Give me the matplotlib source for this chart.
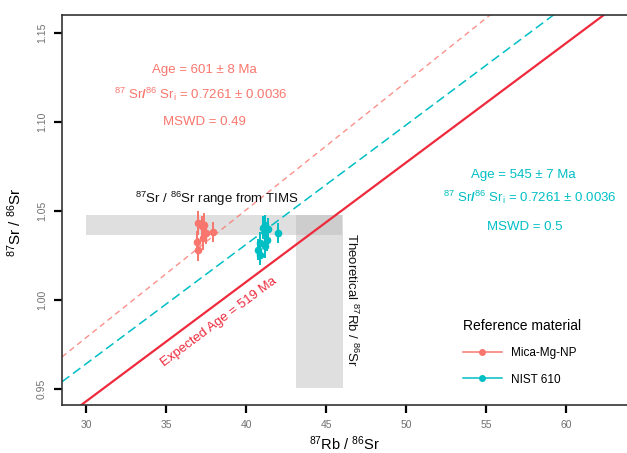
import numpy as np
import matplotlib
matplotlib.use("Agg")
import matplotlib.pyplot as plt
from matplotlib.lines import Line2D

plt.rcParams['font.family'] = ['Liberation Sans', 'DejaVu Sans']
plt.rcParams['mathtext.fontset'] = 'custom'
plt.rcParams['mathtext.rm'] = 'Liberation Sans'
plt.rcParams['mathtext.bf'] = 'Liberation Sans:bold'
plt.rcParams['mathtext.it'] = 'Liberation Sans:italic'

# Measured ratios (87Rb/86Sr, 87Sr/86Sr) with 2s errors
mica_rb = [37.02, 37.23, 37.38, 37.50, 37.96, 36.92, 37.02, 37.33]
mica_sr = [1.0432, 1.0413, 1.0422, 1.0377, 1.0381, 1.0328, 1.0282, 1.0348]
mica_rb_err = [0.10, 0.10, 0.10, 0.10, 0.10, 0.10, 0.10, 0.10]
mica_sr_err = [0.0065, 0.0060, 0.0065, 0.0060, 0.0055, 0.0060, 0.0065, 0.0065]

nist_rb = [41.06, 41.40, 42.00, 40.90, 41.30, 40.76, 41.19, 40.88, 41.20]
nist_sr = [1.0405, 1.0396, 1.0377, 1.0321, 1.0338, 1.0282, 1.0301, 1.0254, 1.0422]
nist_rb_err = [0.10, 0.10, 0.10, 0.10, 0.10, 0.10, 0.10, 0.10, 0.10]
nist_sr_err = [0.0065, 0.0065, 0.0055, 0.0060, 0.0065, 0.0060, 0.0065, 0.0060, 0.0055]

# Isochron lines: slope and intercept of each regression
mica_slope, mica_int = 0.00718, 0.7634
nist_slope, nist_int = 0.00671, 0.7628
expected_slope, expected_int = 0.00671, 0.7417

# TIMS 87Sr/86Sr range and theoretical 87Rb/86Sr range
tims_sr_range = [1.0366, 1.0479]
tims_rb_extent = [30.0, 46.0]
theo_rb_range = [43.1, 46.05]
theo_sr_extent = [0.9506, 1.0479]

pink = '#F8766D'
teal = '#00BFC4'
red = '#EE2A3C'

fig = plt.figure(figsize=(6.27, 4.53), dpi=100)
ax = fig.add_axes([0.0989, 0.106, 0.9011, 0.861])
xlim = (28.5, 63.8)
ylim = (0.941, 1.1601)

ax.fill_between(tims_rb_extent, tims_sr_range[0], tims_sr_range[1],
                color='#b8b8b8', alpha=0.45, lw=0, zorder=1)
ax.fill_between(theo_rb_range, theo_sr_extent[0], theo_sr_extent[1],
                color='#b8b8b8', alpha=0.45, lw=0, zorder=1)

xs = np.linspace(xlim[0], xlim[1], 200)
ax.plot(xs, mica_int + mica_slope * xs, color=pink, lw=1.0, alpha=0.8,
        ls=(0, (4, 3)), zorder=2)
ax.plot(xs, nist_int + nist_slope * xs, color=teal, lw=1.1,
        ls=(0, (6, 3)), zorder=2)
ax.plot(xs, expected_int + expected_slope * xs, color=red, lw=1.6, zorder=2)

ax.errorbar(mica_rb, mica_sr, xerr=mica_rb_err, yerr=mica_sr_err, fmt='o',
            color=pink, ms=4.5, elinewidth=1.4, capsize=0, zorder=3)
ax.errorbar(nist_rb, nist_sr, xerr=nist_rb_err, yerr=nist_sr_err, fmt='o',
            color=teal, ms=4.5, elinewidth=1.4, capsize=0, zorder=3)

ax.set_xlim(*xlim)
ax.set_ylim(*ylim)
ax.set_xticks([30, 35, 40, 45, 50, 55, 60])
ax.set_yticks([0.95, 1.00, 1.05, 1.10, 1.15])
ax.set_yticklabels(['0.95', '1.00', '1.05', '1.10', '1.15'], rotation=90, va='center')
ax.tick_params(axis='both', direction='out', length=6, width=1.6, color='black',
               labelsize=7.5, labelcolor='#707070', pad=5)
for s in ['left', 'bottom', 'top']:
    ax.spines[s].set_linewidth(1.2)
    ax.spines[s].set_color('#333333')
ax.spines['right'].set_visible(False)

ax.set_xlabel(r'$^{87}$Rb / $^{86}$Sr', fontsize=10.5, labelpad=3)
ax.set_ylabel(r'$^{87}$Sr / $^{86}$Sr', fontsize=11, labelpad=6)
ax.yaxis.set_label_coords(-0.068, 0.47)

fs = 9.5
ratio_txt = r'$^{87}$ Sr$\mathbf{/}^{86}$ Sr$_{\mathrm{i}}$ = 0.7261 ± 0.0036'
ax.text(37.4, 1.1294, 'Age = 601 ± 8 Ma', color=pink, fontsize=fs, ha='center', va='center')
ax.text(37.2, 1.1154, ratio_txt, color=pink, fontsize=fs, ha='center', va='center')
ax.text(37.4, 1.1002, 'MSWD = 0.49', color=pink, fontsize=fs, ha='center', va='center')

ax.text(57.3, 1.0704, 'Age = 545 ± 7 Ma', color=teal, fontsize=fs, ha='center', va='center')
ax.text(57.7, 1.0574, ratio_txt, color=teal, fontsize=fs, ha='center', va='center')
ax.text(57.4, 1.0411, 'MSWD = 0.5', color=teal, fontsize=fs, ha='center', va='center')

ax.text(38.2, 1.0565, r'$^{87}$Sr / $^{86}$Sr range from TIMS', fontsize=fs,
        ha='center', va='center', color='#111111')
ax.text(46.6, 1.000, r'Theoretical $^{87}$Rb / $^{86}$Sr', fontsize=fs,
        ha='center', va='center', rotation=-90, color='#111111')

# label along the expected-age line
lx = 38.3
ly = expected_int + expected_slope * lx - 0.011
p1 = ax.transData.transform((30, expected_int + expected_slope * 30))
p2 = ax.transData.transform((60, expected_int + expected_slope * 60))
ang = np.degrees(np.arctan2(p2[1] - p1[1], p2[0] - p1[0]))
ax.text(lx, ly, 'Expected Age = 519 Ma', color=red, fontsize=fs, ha='center',
        va='center', rotation=ang, rotation_mode='anchor')

handles = [
    Line2D([], [], color=pink, marker='o', ms=4, lw=1.1),
    Line2D([], [], color=teal, marker='o', ms=4, lw=1.1),
]
leg = ax.legend(handles, ['Mica-Mg-NP', 'NIST 610'], title='Reference material',
                loc='upper left', bbox_to_anchor=(0.701, 0.232), frameon=False,
                fontsize=8.5, title_fontsize=10, handlelength=3.3,
                handletextpad=0.8, labelspacing=1.2, alignment='left',
                borderaxespad=0)

fig.savefig('out.png', dpi=100)
